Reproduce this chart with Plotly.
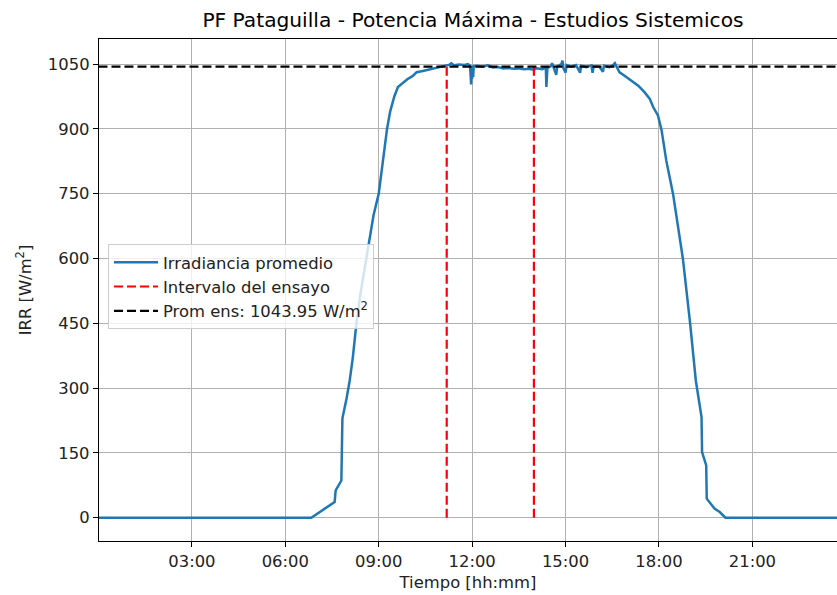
import plotly.graph_objects as go

# ---- data ----
times = ["00:01", "06:50", "07:35", "07:37", "07:48", "07:50", "07:58", "08:04", "08:10", "08:17",
         "08:25", "08:33", "08:41", "08:50", "09:00", "09:08", "09:16", "09:22", "09:30", "09:37",
         "09:45", "09:55", "10:05", "10:13", "10:25", "10:40", "10:55", "11:05", "11:15", "11:20",
         "11:25", "11:35", "11:45", "11:52", "11:56", "11:58", "11:59", "12:00", "12:01", "12:02",
         "12:03", "12:10", "12:20", "12:30", "12:40", "12:50", "13:00", "13:10", "13:20", "13:30",
         "13:40", "13:50", "13:58", "14:05", "14:15", "14:22", "14:23", "14:25", "14:32", "14:34",
         "14:38", "14:42", "14:44", "14:52", "14:54", "14:56", "15:00", "15:02", "15:10", "15:20",
         "15:28", "15:30", "15:40", "15:50", "15:52", "15:54", "16:05", "16:12", "16:14", "16:25",
         "16:32", "16:35", "16:40", "16:44", "16:55", "17:10", "17:20", "17:32", "17:42", "17:49",
         "17:58", "18:05", "18:14", "18:27", "18:46", "19:00", "19:11", "19:22", "19:23", "19:31",
         "19:32", "19:47", "19:57", "20:08", "23:59"]
irr = [0, 0, 36, 63, 86, 230, 276, 317, 370, 450,
       520, 580, 635, 700, 750, 830, 900, 940, 975, 997,
       1005, 1015, 1022, 1031, 1034, 1038, 1041, 1044, 1048, 1052,
       1047, 1049, 1048, 1050, 1046, 1003, 1040, 1015, 1046, 1020,
       1045, 1046, 1044, 1047, 1042, 1043, 1040, 1041, 1039, 1040,
       1038, 1039, 1037, 1040, 1038, 1042, 997, 1041, 1045, 1052,
       1040, 1025, 1045, 1050, 1058, 1040, 1030, 1048, 1044, 1048,
       1030, 1046, 1043, 1047, 1030, 1045, 1044, 1032, 1046, 1043,
       1048, 1052, 1040, 1031, 1022, 1008, 1000, 985, 970, 950,
       931, 897, 827, 750, 600, 450, 317, 233, 152, 121,
       44, 21, 13, 0, 0]

ensayo_ini = "11:11"
ensayo_fin = "13:59"
ensayo_top = 1045
prom = 1043.95

x_start = "00:01"
x_end = "23:43"
tick_labels = ["03:00", "06:00", "09:00", "12:00", "15:00", "18:00", "21:00"]

day = "2024-01-01 "
def d(t):
    return day + t

FONT = "DejaVu Sans"
TICK = 16.4
W, H = 837, 595
fig = go.Figure()

fig.add_trace(go.Scatter(
    x=[d(t) for t in times], y=irr, mode="lines",
    line=dict(color="#1f77b4", width=2.5),
    name="Irradiancia promedio"))

fig.add_trace(go.Scatter(
    x=[d(ensayo_ini), d(ensayo_ini), None, d(ensayo_fin), d(ensayo_fin)],
    y=[0, ensayo_top, None, 0, ensayo_top], mode="lines",
    line=dict(color="red", width=2.2, dash="9px,4px"),
    name="Intervalo del ensayo"))

fig.add_trace(go.Scatter(
    x=[day + "00:00", day + "23:59"], y=[prom, prom], mode="lines",
    line=dict(color="black", width=2.2, dash="9px,4px"),
    name=f"Prom ens: {prom:.2f} W/m<sup>2</sup>"))

fig.update_layout(
    width=W, height=H,
    margin=dict(l=99, r=0, t=39, b=54),
    paper_bgcolor="white", plot_bgcolor="white",
    font=dict(family=FONT, size=TICK, color="#222222"),
    title=dict(text="PF Pataguilla - Potencia Máxima - Estudios Sistemicos",
               xref="container", x=473/W, xanchor="center",
               yref="container", y=1-20/H, yanchor="middle",
               font=dict(size=20.2, family=FONT, color="black")),
    showlegend=True,
    legend=dict(x=(108-99)/738, y=1-(244-39)/502, xanchor="left", yanchor="top",
                bgcolor="rgba(255,255,255,0.8)", bordercolor="#cccccc", borderwidth=1,
                itemwidth=44,
                font=dict(size=TICK, family=FONT, color="#222222")),
)

fig.update_xaxes(
    type="date", range=[d(x_start), d(x_end)],
    tickvals=[d(t) for t in tick_labels], ticktext=tick_labels,
    showgrid=True, gridcolor="#b0b0b0", gridwidth=1.3,
    showline=True, linecolor="black", linewidth=1.3, mirror=True,
    ticks="outside", ticklen=5, tickcolor="black",
    zeroline=False, automargin=False,
    title=dict(text="Tiempo [hh:mm]", font=dict(size=TICK), standoff=6),
)
fig.update_yaxes(
    range=[-54, 1108], tickvals=[0, 150, 300, 450, 600, 750, 900, 1050],
    showgrid=True, gridcolor="#b0b0b0", gridwidth=1.3,
    showline=True, linecolor="black", linewidth=1.3, mirror=False,
    ticks="outside", ticklen=5, tickcolor="black",
    zeroline=False, automargin=False,
    title=dict(text="IRR [W/m<sup>2</sup>]", font=dict(size=TICK), standoff=12),
)

fig.write_html("out.html", config={"displayModeBar": False},
               post_script="document.body.style.margin='0';document.body.style.overflow='hidden';")
